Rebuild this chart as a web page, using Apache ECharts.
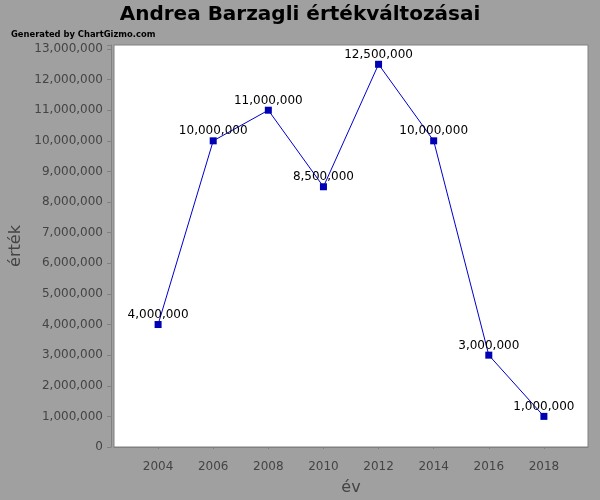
<!DOCTYPE html>
<html><head><meta charset="utf-8">
<script src="https://cdn.jsdelivr.net/npm/echarts@6/dist/echarts.min.js"></script>
<style>html,body{margin:0;padding:0;background:#a0a0a0}#c{width:600px;height:500px}</style>
</head><body><div id="c"></div>
<script>
const years = [2004, 2006, 2008, 2010, 2012, 2014, 2016, 2018];
const values = [4000000, 10000000, 11000000, 8500000, 12500000, 10000000, 3000000, 1000000];
const xTicks = [2004, 2006, 2008, 2010, 2012, 2014, 2016, 2018];
const titleText = 'Andrea Barzagli értékváltozásai';
const creditText = 'Generated by ChartGizmo.com';
const xName = 'év';
const yName = 'érték';

const fmt = v => Math.round(v).toString().replace(/\B(?=(\d{3})+(?!\d))/g, ',');
const chart = echarts.init(document.getElementById('c'), null, {renderer: 'canvas'});
const F = 'DejaVu Sans';
chart.setOption({
  backgroundColor: '#a0a0a0',
  animation: false,
  title: [
    {text: titleText, left: 'center', top: 0, textStyle: {fontFamily: F, fontWeight: 'bold', fontSize: 20, color: '#000'}},
    {text: creditText, left: 6, top: 25, textStyle: {fontFamily: 'DejaVu Sans Condensed', fontWeight: 'bold', fontSize: 9.3, color: '#000'}}
  ],
  grid: {left: 114, right: 12, top: 45, bottom: 53, outerBoundsMode: 'none', containLabel: false, show: true, backgroundColor: '#ffffff', borderColor: '#808080', borderWidth: 1},
  xAxis: {
    type: 'value', min: 2002.4, max: 2019.6, interval: 2,
    offset: 4,
    name: xName, nameLocation: 'middle', nameGap: 29,
    nameTextStyle: {fontFamily: F, fontSize: 16, fontWeight: 'normal', color: '#444'},
    axisLine: {show: true, lineStyle: {color: '#808080'}},
    axisTick: {show: true, length: 2, lineStyle: {color: '#808080'}, customValues: xTicks},
    axisLabel: {fontFamily: F, fontSize: 12, color: '#444', margin: 10, customValues: xTicks, formatter: v => String(v)},
    splitLine: {show: false}
  },
  yAxis: {
    type: 'value', min: 0, max: 13130000, interval: 1000000,
    offset: 3,
    name: yName, nameLocation: 'middle', nameGap: 78, nameRotate: 90,
    nameTextStyle: {fontFamily: F, fontSize: 16, fontWeight: 'normal', color: '#444'},
    axisLine: {show: true, lineStyle: {color: '#808080'}},
    axisTick: {show: true, length: 4, lineStyle: {color: '#808080'}},
    axisLabel: {fontFamily: F, fontSize: 12, color: '#444', margin: 8, formatter: v => v > 13000000 ? '' : fmt(v)},
    splitLine: {show: false}
  },
  series: [{
    type: 'line',
    data: years.map((y, i) => [y, values[i]]),
    symbol: 'rect', symbolSize: 7,
    itemStyle: {color: '#0000b4'},
    lineStyle: {color: '#0000cc', width: 1},
    label: {show: true, position: 'top', distance: 0, fontFamily: F, fontSize: 12, color: '#000', formatter: p => fmt(p.value[1])}
  }]
});
</script></body></html>
